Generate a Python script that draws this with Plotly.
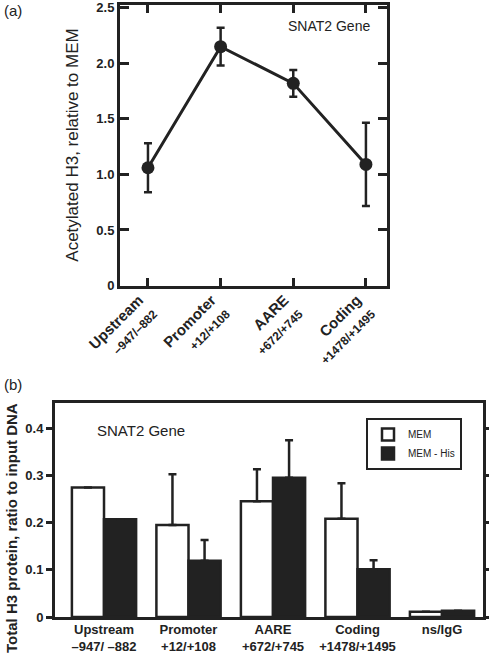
import plotly.graph_objects as go

# ---------- data: panel (a) ----------
a_categories = ["Upstream", "Promoter", "AARE", "Coding"]
a_sublabels = ["–947/–882", "+12/+108", "+672/+745", "+1478/+1495"]
a_values = [1.06, 2.15, 1.82, 1.09]
a_errors = [0.22, 0.17, 0.12, 0.375]
a_yticks = [0, 0.5, 1.0, 1.5, 2.0, 2.5]
a_yticklabels = ["0", "0.5", "1.0", "1.5", "2.0", "2.5"]

# ---------- data: panel (b) ----------
b_categories = ["Upstream", "Promoter", "AARE", "Coding", "ns/IgG"]
b_sublabels = ["–947/ –882", "+12/+108", "+672/+745", "+1478/+1495", ""]
b_mem = [0.274, 0.195, 0.245, 0.208, 0.011]
b_mem_err = [None, 0.107, 0.068, 0.075, None]
b_his = [0.207, 0.119, 0.295, 0.101, 0.013]
b_his_err = [None, 0.044, 0.079, 0.019, None]
b_yticks = [0, 0.1, 0.2, 0.3, 0.4]
b_yticklabels = ["0", "0.1", "0.2", "0.3", "0.4"]

INK = "#222222"
FONT = "Liberation Sans, Arial, sans-serif"
W, H = 489, 653

def px_x(p):
    return p / W

def px_y(p):
    return 1 - p / H

fig = go.Figure()

# panel (a) line with error bars
fig.add_trace(go.Scatter(
    x=a_categories, y=a_values, mode="lines+markers",
    line=dict(color=INK, width=3),
    marker=dict(color=INK, size=13),
    error_y=dict(type="data", array=a_errors, visible=True,
                 color=INK, thickness=2.5, width=4),
    xaxis="x", yaxis="y", showlegend=False,
))

# panel (b) bars
fig.add_trace(go.Bar(
    x=b_categories, y=b_mem, name="MEM",
    marker=dict(color="white", line=dict(color=INK, width=2.5)),
    error_y=dict(type="data", array=b_mem_err, symmetric=False,
                 arrayminus=[0] * len(b_mem), visible=True,
                 color=INK, thickness=2.5, width=4),
    xaxis="x2", yaxis="y2",
))
fig.add_trace(go.Bar(
    x=b_categories, y=b_his, name="MEM - His",
    marker=dict(color=INK, line=dict(color=INK, width=2.5)),
    error_y=dict(type="data", array=b_his_err, symmetric=False,
                 arrayminus=[0] * len(b_his), visible=True,
                 color=INK, thickness=2.5, width=4),
    xaxis="x2", yaxis="y2",
))

a_ticktext = [f"<b>{c}</b><br><span style='font-size:12px'><b>{s}</b></span>"
              for c, s in zip(a_categories, a_sublabels)]
b_ticktext = [f"<b>{c}</b><br><b>{s}</b>" if s else f"<b>{c}</b><br> "
              for c, s in zip(b_categories, b_sublabels)]

fig.update_layout(
    width=W, height=H,
    margin=dict(l=0, r=0, t=0, b=0),
    paper_bgcolor="white", plot_bgcolor="white",
    font=dict(family=FONT, color=INK),
    barmode="group", bargap=0.24, bargroupgap=0,
    xaxis=dict(
        domain=[px_x(120), px_x(387)], anchor="y", automargin=False,
        type="category", range=[-0.385, 3.29],
        tickvals=a_categories, ticktext=a_ticktext, tickangle=-45,
        tickfont=dict(size=15, color=INK),
        ticklabelshift=-9, ticklabelstandoff=-3,
        ticks="inside", ticklen=8, tickwidth=3, tickcolor=INK,
        showline=True, linewidth=3, linecolor=INK, mirror="ticks",
        showgrid=False, zeroline=False,
    ),
    yaxis=dict(
        domain=[px_y(285.5), px_y(4.5)], anchor="x", automargin=False,
        range=[0, 2.53],
        tickvals=a_yticks, ticktext=[f"<b>{t}</b>" for t in a_yticklabels],
        tickfont=dict(size=13, color=INK), ticklabeloverflow="allow",
        ticks="inside", ticklen=9, tickwidth=3, tickcolor=INK,
        showline=True, linewidth=3, linecolor=INK, mirror="ticks",
        showgrid=False, zeroline=False,
        title=dict(text="Acetylated H3, relative to MEM",
                   font=dict(size=17, color=INK), standoff=14),
    ),
    xaxis2=dict(
        domain=[px_x(55), px_x(483)], anchor="y2", automargin=False,
        type="category", range=[-0.58, 4.485],
        tickvals=b_categories, ticktext=b_ticktext,
        tickfont=dict(size=13, color=INK), ticklabeloverflow="allow",
        ticklabelstandoff=-2,
        ticks="", showline=True, linewidth=3, linecolor=INK, mirror=True,
        showgrid=False, zeroline=False,
    ),
    yaxis2=dict(
        domain=[px_y(617), px_y(403)], anchor="x2", automargin=False,
        range=[0, 0.453],
        tickvals=b_yticks, ticktext=[f"<b>{t}</b>" for t in b_yticklabels],
        tickfont=dict(size=13, color=INK),
        ticks="outside", ticklen=6, tickwidth=3, tickcolor=INK,
        showline=True, linewidth=3, linecolor=INK, mirror="ticks",
        showgrid=False, zeroline=False,
    ),
    legend=dict(
        x=px_x(462), y=px_y(418), xanchor="right", yanchor="top",
        bgcolor="white", bordercolor=INK, borderwidth=2,
        font=dict(size=10, color=INK, family=FONT),
        itemwidth=30, tracegroupgap=0,
    ),
    annotations=[
        dict(text="(a)", x=px_x(2), y=px_y(11), xref="paper", yref="paper",
             xanchor="left", yanchor="middle", showarrow=False,
             font=dict(size=15, color=INK)),
        dict(text="(b)", x=px_x(2), y=px_y(384), xref="paper", yref="paper",
             xanchor="left", yanchor="middle", showarrow=False,
             font=dict(size=15, color=INK)),
        dict(text="SNAT2 Gene", x=px_x(329), y=px_y(26), xref="paper", yref="paper",
             xanchor="center", yanchor="middle", showarrow=False,
             font=dict(size=14, color=INK)),
        dict(text="SNAT2 Gene", x=px_x(141), y=px_y(430), xref="paper", yref="paper",
             xanchor="center", yanchor="middle", showarrow=False,
             font=dict(size=15, color=INK)),
        dict(text="<b>Total H3 protein, ratio to input DNA</b>",
             x=px_x(11), y=px_y(528), xref="paper", yref="paper",
             xanchor="center", yanchor="middle", textangle=-90, showarrow=False,
             font=dict(size=15, color=INK)),
    ],
)

fig.write_html("out.html",
               config={"displayModeBar": False},
               post_script="document.body.style.margin='0';document.body.style.padding='0';")
